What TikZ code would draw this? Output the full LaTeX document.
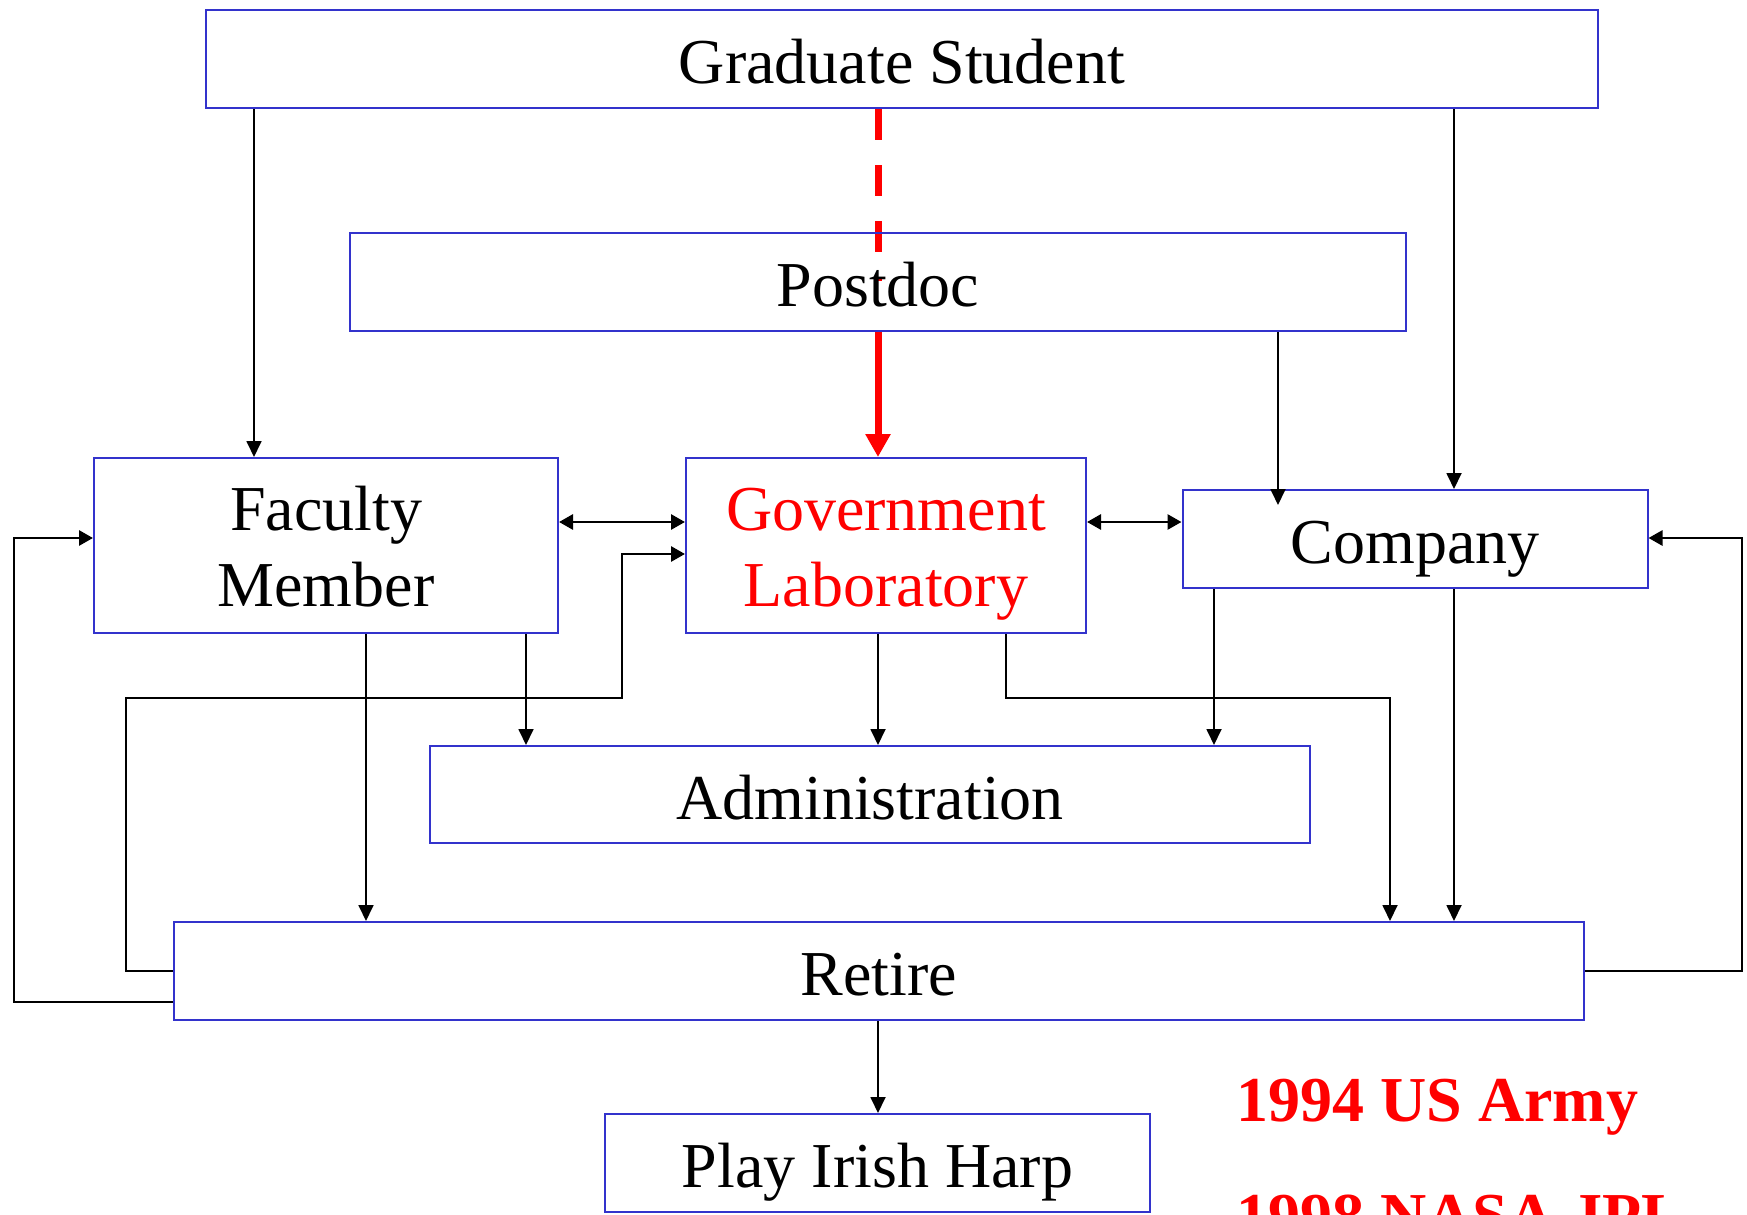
\documentclass[tikz,border=0pt]{standalone}
\usepackage{fontspec}
\setmainfont{Liberation Serif}
\usetikzlibrary{arrows.meta,backgrounds}
\definecolor{boxblue}{RGB}{51,51,204}
\definecolor{hotred}{RGB}{255,0,0}
\begin{document}
\begin{tikzpicture}[x=0.5pt,y=-0.5pt,
  box/.style={draw=boxblue,line width=1pt,rectangle,inner sep=0pt,
    font=\fontsize{32}{37}\selectfont,text height=26pt,text depth=1.2pt},
  lbl/.style={inner sep=0pt,font=\fontsize{32}{37}\selectfont},
  arr/.style={draw=black,line width=0.9pt,-{Triangle[length=8pt,width=7.5pt]}},
  loopline/.style={draw=black,line width=1.4pt,-{Triangle[length=7pt,width=7.5pt]}},
  dbl/.style={draw=black,line width=1.4pt,{Triangle[length=7pt,width=7.5pt]}-{Triangle[length=7pt,width=7.5pt]}},
  redarr/.style={draw=hotred,line width=3.5pt,-{Triangle[length=11.5pt,width=12pt]}},
  reddash/.style={draw=hotred,line width=3.5pt,dash pattern=on 15.5pt off 12.5pt},
  note/.style={inner sep=0pt,text=hotred,font=\fontsize{32}{37}\selectfont\bfseries}
]
\useasboundingbox (0,0) rectangle (1747,1215);

% boxes
\node[box,minimum width=696pt,minimum height=49pt] (grad) at (902,59) {Graduate Student};
\node[box,minimum width=528pt,minimum height=49pt] (pd) at (878,282) {Postdoc};
\node[box,minimum width=232pt,minimum height=87.5pt] (fac) at (326,545.5) {};
\node[box,minimum width=200pt,minimum height=87.5pt] (gov) at (886,545.5) {};
\node[box,minimum width=232.5pt,minimum height=49pt] (comp) at (1415,539) {Company};
\node[box,minimum width=440pt,minimum height=48.5pt] (adm) at (870,794.5) {Administration};
\node[box,minimum width=705pt,minimum height=49pt] (ret) at (879,971) {Retire};
\node[box,minimum width=272.5pt,minimum height=49pt] (harp) at (877.5,1163) {Play Irish Harp};

% two-line labels
\node[lbl,anchor=base] (facA) at ([yshift=7.75pt]fac.center) {Faculty};
\node[lbl,anchor=base] (facB) at ([yshift=-30.6pt]fac.center) {Member};
\node[lbl,anchor=base,text=hotred] (govA) at ([yshift=7.75pt]gov.center) {Government};
\node[lbl,anchor=base,text=hotred] (govB) at ([yshift=-30.6pt]gov.center) {Laboratory};

% notes
\node[note,anchor=base west] (army) at (1236,1121) {1994 US Army};
\node[note,anchor=base west] (jpl) at (1236,1237) {1998 NASA JPL};

% reference columns and rows for connectors
\coordinate (xa) at (254,0);
\coordinate (xb) at (1454,0);
\coordinate (xc) at (878,0);
\coordinate (xd) at (1278,0);
\coordinate (xe) at (366,0);
\coordinate (xf) at (526,0);
\coordinate (xg) at (1214,0);
\coordinate (xh) at (1006,0);
\coordinate (yd) at (0,522);
\coordinate (yg) at (0,554);
\coordinate (yr) at (0,1002);
\coordinate (pdEnd) at (1278,505);
\coordinate (rEnd) at (878,281);
\coordinate (lpL) at (14,538);
\coordinate (lpM) at (126,698);
\coordinate (lpG) at (622,698);
\coordinate (lpR) at (1742,538);
\coordinate (gR) at (1390,698);

% red path from graduate student through postdoc
\begin{scope}[on background layer]
  \draw[reddash] (grad.south -| xc) -- (rEnd);
\end{scope}
\draw[redarr] (pd.south -| xc) -- (gov.north -| xc);

% downward flows
\draw[arr] (grad.south -| xa) -- (fac.north -| xa);
\draw[arr] (grad.south -| xb) -- (comp.north -| xb);
\draw[arr] (pd.south -| xd) -- (pdEnd);
\draw[arr] (fac.south -| xe) -- (ret.north -| xe);
\draw[arr] (fac.south -| xf) -- (adm.north -| xf);
\draw[arr] (gov.south -| xc) -- (adm.north -| xc);
\draw[arr] (gov.south -| xh) |- (gR) -- (ret.north -| gR);
\draw[arr] (comp.south -| xg) -- (adm.north -| xg);
\draw[arr] (comp.south -| xb) -- (ret.north -| xb);
\draw[arr] (ret.south -| xc) -- (harp.north -| xc);

% exchanges between employers
\draw[dbl] (fac.east |- yd) -- (gov.west |- yd);
\draw[dbl] (gov.east |- yd) -- (comp.west |- yd);

% return paths from retirement
\draw[loopline] (ret.west) -| (lpM) -- (lpG) |- (gov.west |- yg);
\draw[loopline] (ret.west |- yr) -| (lpL) -- (fac.west |- lpL);
\draw[loopline] (ret.east) -| (lpR) -- (comp.east |- lpR);
\end{tikzpicture}
\end{document}
